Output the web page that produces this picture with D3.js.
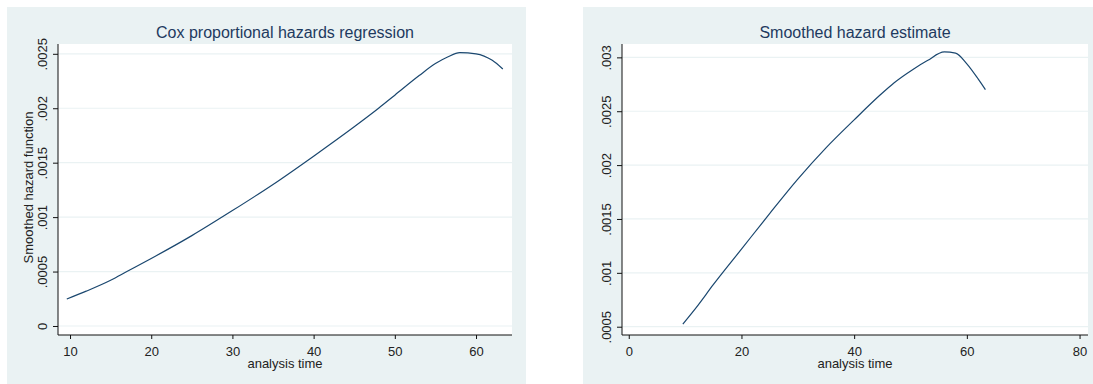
<!DOCTYPE html>
<html>
<head>
<meta charset="utf-8">
<script src="https://cdn.jsdelivr.net/npm/d3@7"></script>
<style>
  html, body { margin: 0; padding: 0; background: #ffffff; }
  svg { display: block; font-family: "Liberation Sans", Arial, sans-serif; }
</style>
</head>
<body>
<svg id="chart" width="1093" height="384"></svg>
<script>
// Cox model: smoothed hazard function over analysis time
const coxTime   = [9.6, 12, 15, 17, 20, 25, 30, 35, 40, 45, 48, 50, 53, 55, 56.5, 58, 60, 62, 63.3];
const coxHazard = [0.000248, 0.00032, 0.00042, 0.00050, 0.00062, 0.00083, 0.00106, 0.00130, 0.00156, 0.00183,
                   0.00200, 0.00212, 0.00230, 0.00241, 0.00247, 0.00251, 0.00250, 0.00244, 0.00236];

// Smoothed hazard estimate from the survival data
const kmTime   = [9.6, 12, 15, 20, 25, 30, 35, 40, 44.6, 47, 50.5, 53, 56, 58, 60, 62, 63.3];
const kmHazard = [0.000525, 0.00068, 0.00089, 0.00122, 0.00155, 0.00187, 0.00216, 0.00242, 0.00265, 0.00276,
                  0.00289, 0.00297, 0.00305, 0.00304, 0.00294, 0.00280, 0.00270];

const coxXTicks = [10, 20, 30, 40, 50, 60];
const coxYTicks = [0, 0.0005, 0.001, 0.0015, 0.002, 0.0025];
const coxYLabels = ["0", ".0005", ".001", ".0015", ".002", ".0025"];

const kmXTicks = [0, 20, 40, 60, 80];
const kmYTicks = [0.0005, 0.001, 0.0015, 0.002, 0.0025, 0.003];
const kmYLabels = [".0005", ".001", ".0015", ".002", ".0025", ".003"];

const svg = d3.select("#chart");
const BG = "#eaf2f3", GRID = "#eaf2f3", LINE = "#1a476f", INK = "#111111", TITLE = "#1e3a5f";

function panel(cfg) {
  const g = svg.append("g");
  // graph region
  g.append("rect").attr("x", cfg.bg[0]).attr("y", 7)
    .attr("width", cfg.bg[1] - cfg.bg[0]).attr("height", 384 - 7).attr("fill", BG);
  // plot region
  const L = cfg.plot[0], R = cfg.plot[1], T = 44, B = 335;
  g.append("rect").attr("x", L).attr("y", T).attr("width", R - L).attr("height", B - T).attr("fill", "#ffffff");

  const x = d3.scaleLinear().domain(cfg.xDomain).range([L, R]);
  const y = d3.scaleLinear().domain(cfg.yDomain).range([B, T]);

  // horizontal grid
  g.append("g").selectAll("line").data(cfg.yTicks).join("line")
    .attr("x1", L).attr("x2", R)
    .attr("y1", d => y(d)).attr("y2", d => y(d))
    .attr("stroke", GRID).attr("stroke-width", 1.2);

  // y axis
  const yAxis = g.append("g").attr("transform", `translate(${L},0)`)
    .call(d3.axisLeft(y).tickValues(cfg.yTicks).tickSize(5).tickSizeOuter(0)
      .tickFormat((d, i) => cfg.yLabels[i]));
  yAxis.select(".domain").attr("stroke", INK).attr("d", `M0,${T}V${B}`);
  yAxis.selectAll(".tick line").attr("stroke", INK);
  yAxis.selectAll(".tick text")
    .attr("x", null).attr("dy", null)
    .attr("transform", "translate(-11,0) rotate(-90)")
    .attr("text-anchor", "middle")
    .attr("font-size", 13).attr("fill", "#222");

  // x axis
  const xAxis = g.append("g").attr("transform", `translate(0,${B})`)
    .call(d3.axisBottom(x).tickValues(cfg.xTicks).tickSize(4).tickSizeOuter(0));
  xAxis.select(".domain").attr("stroke", INK).attr("d", `M${L},0H${R}`);
  xAxis.selectAll(".tick line").attr("stroke", INK);
  xAxis.selectAll(".tick text").attr("y", 21).attr("dy", null)
    .attr("font-size", 13).attr("fill", "#222");

  // titles
  g.append("text").attr("x", (L + R) / 2).attr("y", 38).attr("text-anchor", "middle")
    .attr("font-size", 16).attr("fill", TITLE).text(cfg.title);
  g.append("text").attr("x", (L + R) / 2).attr("y", 368).attr("text-anchor", "middle")
    .attr("font-size", 13).attr("fill", "#222").text("analysis time");
  if (cfg.yTitle) {
    g.append("text").attr("transform", `translate(33,${(T + B) / 2 - 2}) rotate(-90)`)
      .attr("text-anchor", "middle").attr("font-size", 13).attr("fill", "#222").text(cfg.yTitle);
  }

  // hazard curve
  const pts = cfg.t.map((t, i) => [t, cfg.h[i]]);
  g.append("path").datum(pts)
    .attr("fill", "none").attr("stroke", LINE).attr("stroke-width", 1.2)
    .attr("d", d3.line().x(d => x(d[0])).y(d => y(d[1])).curve(d3.curveMonotoneX));
}

panel({
  bg: [7, 526], plot: [58, 512],
  xDomain: [8.52, 64.43], yDomain: [-0.0000827, 0.00259],
  xTicks: coxXTicks, yTicks: coxYTicks, yLabels: coxYLabels,
  t: coxTime, h: coxHazard,
  title: "Cox proportional hazards regression", yTitle: "Smoothed hazard function"
});

panel({
  bg: [583, 1102], plot: [622, 1088],
  xDomain: [-1.2, 81.5], yDomain: [0.000423, 0.003124],
  xTicks: kmXTicks, yTicks: kmYTicks, yLabels: kmYLabels,
  t: kmTime, h: kmHazard,
  title: "Smoothed hazard estimate", yTitle: null
});
</script>
</body>
</html>
